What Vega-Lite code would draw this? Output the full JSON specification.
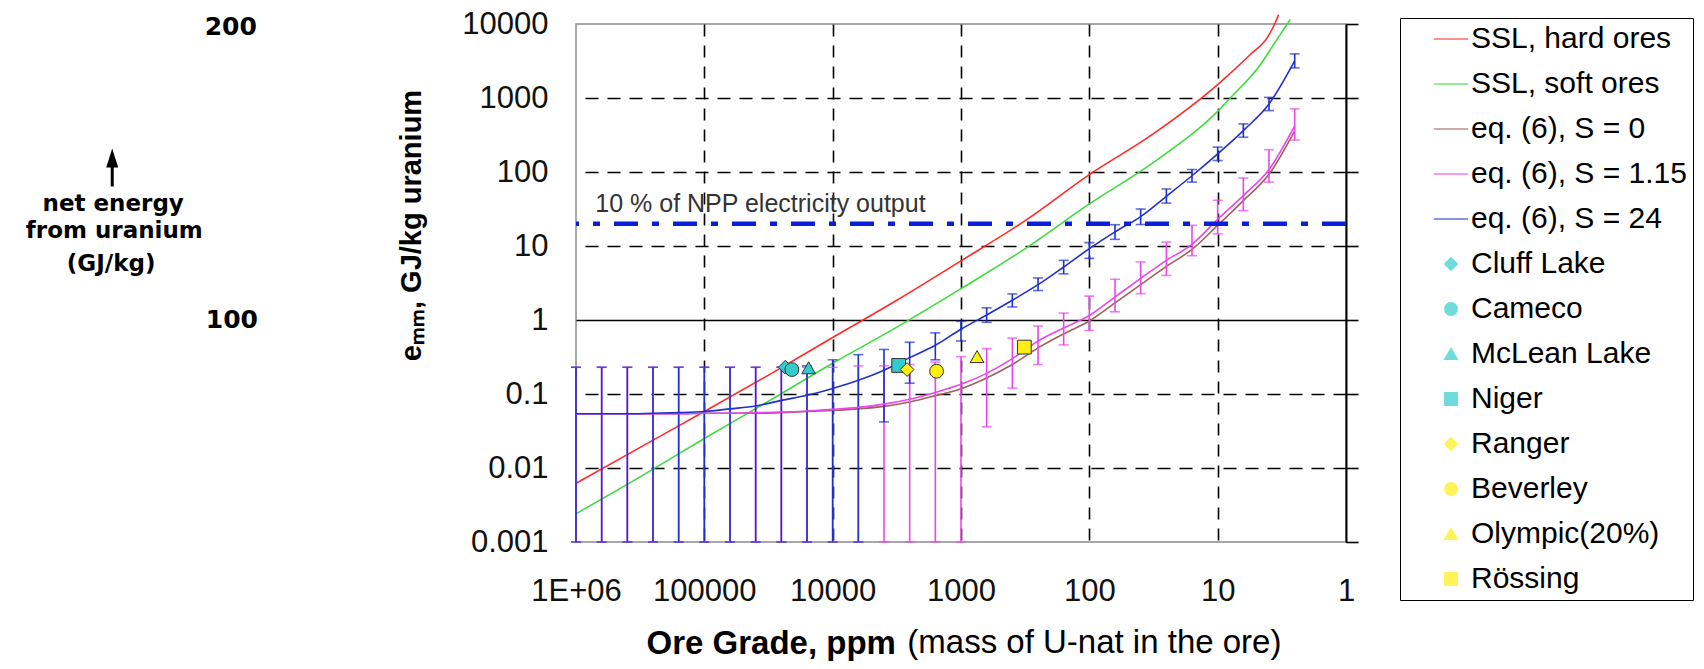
{
  "$schema": "https://vega.github.io/schema/vega-lite/v6.json",
  "width": 770,
  "height": 518,
  "autosize": {"type": "none"},
  "padding": {"left": 576, "top": 24, "right": 358, "bottom": 127},
  "background": "white",
  "config": {
    "view": {"stroke": "#8c8c8c", "strokeWidth": 1.5},
    "font": "Liberation Sans"
  },
  "datasets": {
    "ssl": [
      {"series": "SSL, hard ores", "ppm": 1000000, "e": 0.0062},
      {"series": "SSL, hard ores", "ppm": 316228, "e": 0.019},
      {"series": "SSL, hard ores", "ppm": 100000, "e": 0.058},
      {"series": "SSL, hard ores", "ppm": 31623, "e": 0.18},
      {"series": "SSL, hard ores", "ppm": 10000, "e": 0.58},
      {"series": "SSL, hard ores", "ppm": 3162, "e": 1.85},
      {"series": "SSL, hard ores", "ppm": 1000, "e": 6.3},
      {"series": "SSL, hard ores", "ppm": 316, "e": 22},
      {"series": "SSL, hard ores", "ppm": 100, "e": 92},
      {"series": "SSL, hard ores", "ppm": 31.6, "e": 330},
      {"series": "SSL, hard ores", "ppm": 10, "e": 1520},
      {"series": "SSL, hard ores", "ppm": 5.56, "e": 3870},
      {"series": "SSL, hard ores", "ppm": 4.12, "e": 6500},
      {"series": "SSL, hard ores", "ppm": 3.56, "e": 10400},
      {"series": "SSL, hard ores", "ppm": 3.35, "e": 13400},
      {"series": "SSL, soft ores", "ppm": 1000000, "e": 0.0024},
      {"series": "SSL, soft ores", "ppm": 316228, "e": 0.0076},
      {"series": "SSL, soft ores", "ppm": 100000, "e": 0.025},
      {"series": "SSL, soft ores", "ppm": 31623, "e": 0.08},
      {"series": "SSL, soft ores", "ppm": 10000, "e": 0.26},
      {"series": "SSL, soft ores", "ppm": 3162, "e": 0.8},
      {"series": "SSL, soft ores", "ppm": 1000, "e": 2.65},
      {"series": "SSL, soft ores", "ppm": 316, "e": 9.2},
      {"series": "SSL, soft ores", "ppm": 100, "e": 37},
      {"series": "SSL, soft ores", "ppm": 31.6, "e": 135},
      {"series": "SSL, soft ores", "ppm": 10, "e": 660},
      {"series": "SSL, soft ores", "ppm": 7.94, "e": 1006},
      {"series": "SSL, soft ores", "ppm": 4.64, "e": 2840},
      {"series": "SSL, soft ores", "ppm": 3.66, "e": 5300},
      {"series": "SSL, soft ores", "ppm": 2.72, "e": 11500},
      {"series": "eq. (6), S = 0", "ppm": 1000000, "e": 0.054},
      {"series": "eq. (6), S = 0", "ppm": 630957, "e": 0.054},
      {"series": "eq. (6), S = 0", "ppm": 398107, "e": 0.054},
      {"series": "eq. (6), S = 0", "ppm": 251189, "e": 0.054},
      {"series": "eq. (6), S = 0", "ppm": 158489, "e": 0.054},
      {"series": "eq. (6), S = 0", "ppm": 100000, "e": 0.055},
      {"series": "eq. (6), S = 0", "ppm": 63096, "e": 0.055},
      {"series": "eq. (6), S = 0", "ppm": 39811, "e": 0.055},
      {"series": "eq. (6), S = 0", "ppm": 25119, "e": 0.056},
      {"series": "eq. (6), S = 0", "ppm": 15849, "e": 0.058},
      {"series": "eq. (6), S = 0", "ppm": 10000, "e": 0.06},
      {"series": "eq. (6), S = 0", "ppm": 6310, "e": 0.063},
      {"series": "eq. (6), S = 0", "ppm": 3981, "e": 0.068},
      {"series": "eq. (6), S = 0", "ppm": 2512, "e": 0.078},
      {"series": "eq. (6), S = 0", "ppm": 1585, "e": 0.095},
      {"series": "eq. (6), S = 0", "ppm": 1000, "e": 0.118},
      {"series": "eq. (6), S = 0", "ppm": 631, "e": 0.165},
      {"series": "eq. (6), S = 0", "ppm": 398, "e": 0.25},
      {"series": "eq. (6), S = 0", "ppm": 251, "e": 0.42},
      {"series": "eq. (6), S = 0", "ppm": 158.5, "e": 0.65},
      {"series": "eq. (6), S = 0", "ppm": 100, "e": 0.97},
      {"series": "eq. (6), S = 0", "ppm": 63.1, "e": 1.7},
      {"series": "eq. (6), S = 0", "ppm": 39.8, "e": 3.0},
      {"series": "eq. (6), S = 0", "ppm": 25.1, "e": 5.3},
      {"series": "eq. (6), S = 0", "ppm": 15.85, "e": 9.0},
      {"series": "eq. (6), S = 0", "ppm": 10, "e": 19},
      {"series": "eq. (6), S = 0", "ppm": 6.31, "e": 41},
      {"series": "eq. (6), S = 0", "ppm": 3.98, "e": 93},
      {"series": "eq. (6), S = 0", "ppm": 2.51, "e": 360}
    ],
    "eq": [
      {"series": "eq. (6), S = 1.15", "ppm": 1000000, "e": 0.054, "lo": 0.001, "hi": 0.23},
      {"series": "eq. (6), S = 1.15", "ppm": 630957, "e": 0.054, "lo": 0.001, "hi": 0.23},
      {"series": "eq. (6), S = 1.15", "ppm": 398107, "e": 0.054, "lo": 0.001, "hi": 0.23},
      {"series": "eq. (6), S = 1.15", "ppm": 251189, "e": 0.054, "lo": 0.001, "hi": 0.23},
      {"series": "eq. (6), S = 1.15", "ppm": 158489, "e": 0.054, "lo": 0.001, "hi": 0.23},
      {"series": "eq. (6), S = 1.15", "ppm": 100000, "e": 0.055, "lo": 0.001, "hi": 0.23},
      {"series": "eq. (6), S = 1.15", "ppm": 63096, "e": 0.055, "lo": 0.001, "hi": 0.23},
      {"series": "eq. (6), S = 1.15", "ppm": 39811, "e": 0.056, "lo": 0.001, "hi": 0.23},
      {"series": "eq. (6), S = 1.15", "ppm": 25119, "e": 0.057, "lo": 0.001, "hi": 0.23},
      {"series": "eq. (6), S = 1.15", "ppm": 15849, "e": 0.059, "lo": 0.001, "hi": 0.23},
      {"series": "eq. (6), S = 1.15", "ppm": 10000, "e": 0.062, "lo": 0.001, "hi": 0.23},
      {"series": "eq. (6), S = 1.15", "ppm": 6310, "e": 0.066, "lo": 0.001, "hi": 0.24},
      {"series": "eq. (6), S = 1.15", "ppm": 3981, "e": 0.073, "lo": 0.001, "hi": 0.24},
      {"series": "eq. (6), S = 1.15", "ppm": 2512, "e": 0.085, "lo": 0.001, "hi": 0.25},
      {"series": "eq. (6), S = 1.15", "ppm": 1585, "e": 0.105, "lo": 0.001, "hi": 0.27},
      {"series": "eq. (6), S = 1.15", "ppm": 1000, "e": 0.135, "lo": 0.001, "hi": 0.32},
      {"series": "eq. (6), S = 1.15", "ppm": 631, "e": 0.19, "lo": 0.036, "hi": 0.41},
      {"series": "eq. (6), S = 1.15", "ppm": 398, "e": 0.3, "lo": 0.12, "hi": 0.57},
      {"series": "eq. (6), S = 1.15", "ppm": 251, "e": 0.52, "lo": 0.25, "hi": 0.83},
      {"series": "eq. (6), S = 1.15", "ppm": 158.5, "e": 0.78, "lo": 0.46, "hi": 1.24},
      {"series": "eq. (6), S = 1.15", "ppm": 100, "e": 1.15, "lo": 0.72, "hi": 2.1},
      {"series": "eq. (6), S = 1.15", "ppm": 63.1, "e": 2.05, "lo": 1.29, "hi": 3.55},
      {"series": "eq. (6), S = 1.15", "ppm": 39.8, "e": 3.65, "lo": 2.27, "hi": 6.1},
      {"series": "eq. (6), S = 1.15", "ppm": 25.1, "e": 6.4, "lo": 4.0, "hi": 11.3},
      {"series": "eq. (6), S = 1.15", "ppm": 15.85, "e": 10.5, "lo": 7.4, "hi": 19},
      {"series": "eq. (6), S = 1.15", "ppm": 10, "e": 23, "lo": 14.6, "hi": 41.5},
      {"series": "eq. (6), S = 1.15", "ppm": 6.31, "e": 48, "lo": 30, "hi": 83},
      {"series": "eq. (6), S = 1.15", "ppm": 3.98, "e": 108, "lo": 73, "hi": 200},
      {"series": "eq. (6), S = 1.15", "ppm": 2.51, "e": 420, "lo": 270, "hi": 713},
      {"series": "eq. (6), S = 24", "ppm": 1000000, "e": 0.054, "lo": 0.001, "hi": 0.23},
      {"series": "eq. (6), S = 24", "ppm": 630957, "e": 0.054, "lo": 0.001, "hi": 0.23},
      {"series": "eq. (6), S = 24", "ppm": 398107, "e": 0.054, "lo": 0.001, "hi": 0.23},
      {"series": "eq. (6), S = 24", "ppm": 251189, "e": 0.055, "lo": 0.001, "hi": 0.23},
      {"series": "eq. (6), S = 24", "ppm": 158489, "e": 0.056, "lo": 0.001, "hi": 0.23},
      {"series": "eq. (6), S = 24", "ppm": 100000, "e": 0.058, "lo": 0.001, "hi": 0.23},
      {"series": "eq. (6), S = 24", "ppm": 63096, "e": 0.063, "lo": 0.001, "hi": 0.23},
      {"series": "eq. (6), S = 24", "ppm": 39811, "e": 0.069, "lo": 0.001, "hi": 0.23},
      {"series": "eq. (6), S = 24", "ppm": 25119, "e": 0.082, "lo": 0.001, "hi": 0.23},
      {"series": "eq. (6), S = 24", "ppm": 15849, "e": 0.096, "lo": 0.001, "hi": 0.24},
      {"series": "eq. (6), S = 24", "ppm": 10000, "e": 0.119, "lo": 0.001, "hi": 0.29},
      {"series": "eq. (6), S = 24", "ppm": 6310, "e": 0.153, "lo": 0.001, "hi": 0.34},
      {"series": "eq. (6), S = 24", "ppm": 3981, "e": 0.21, "lo": 0.042, "hi": 0.4},
      {"series": "eq. (6), S = 24", "ppm": 2512, "e": 0.31, "lo": 0.14, "hi": 0.5},
      {"series": "eq. (6), S = 24", "ppm": 1585, "e": 0.455, "lo": 0.29, "hi": 0.67},
      {"series": "eq. (6), S = 24", "ppm": 1000, "e": 0.75, "lo": 0.52, "hi": 0.96},
      {"series": "eq. (6), S = 24", "ppm": 631, "e": 1.17, "lo": 0.93, "hi": 1.46},
      {"series": "eq. (6), S = 24", "ppm": 398, "e": 1.85, "lo": 1.5, "hi": 2.25},
      {"series": "eq. (6), S = 24", "ppm": 251, "e": 3.0, "lo": 2.5, "hi": 3.7},
      {"series": "eq. (6), S = 24", "ppm": 158.5, "e": 5.2, "lo": 4.2, "hi": 6.4},
      {"series": "eq. (6), S = 24", "ppm": 100, "e": 9.2, "lo": 6.8, "hi": 11.1},
      {"series": "eq. (6), S = 24", "ppm": 63.1, "e": 15.5, "lo": 12.3, "hi": 19.4},
      {"series": "eq. (6), S = 24", "ppm": 39.8, "e": 25, "lo": 19.5, "hi": 31.6},
      {"series": "eq. (6), S = 24", "ppm": 25.1, "e": 47, "lo": 38, "hi": 59},
      {"series": "eq. (6), S = 24", "ppm": 15.85, "e": 89, "lo": 73, "hi": 108},
      {"series": "eq. (6), S = 24", "ppm": 10, "e": 176, "lo": 143, "hi": 217},
      {"series": "eq. (6), S = 24", "ppm": 6.31, "e": 363, "lo": 295, "hi": 447},
      {"series": "eq. (6), S = 24", "ppm": 3.98, "e": 830, "lo": 676, "hi": 1020},
      {"series": "eq. (6), S = 24", "ppm": 2.51, "e": 3170, "lo": 2550, "hi": 3940}
    ],
    "mines": [
      {"series": "Cluff Lake", "ppm": 23400, "e": 0.23},
      {"series": "Cameco", "ppm": 20800, "e": 0.214},
      {"series": "McLean Lake", "ppm": 15400, "e": 0.226},
      {"series": "Niger", "ppm": 3060, "e": 0.243},
      {"series": "Ranger", "ppm": 2630, "e": 0.214},
      {"series": "Beverley", "ppm": 1550, "e": 0.203},
      {"series": "Olympic(20%)", "ppm": 750, "e": 0.32},
      {"series": "Rössing", "ppm": 321, "e": 0.43}
    ]
  },
  "resolve": {"axis": {"y": "independent"}},
  "layer": [
    {
      "data": {"name": "ssl"},
      "mark": {"type": "line", "interpolate": "monotone", "strokeWidth": 1.6},
      "encoding": {
        "x": {
          "field": "ppm", "type": "quantitative",
          "scale": {"type": "log", "domain": [1, 1000000], "reverse": true, "nice": false},
          "axis": {
            "values": [1000000, 100000, 10000, 1000, 100, 10, 1],
            "labelExpr": "datum.value == 1000000 ? '1E+06' : format(datum.value, '~g')",
            "labelFontSize": 31, "labelFont": "Liberation Sans", "labelColor": "#111111",
            "labelBaseline": "middle", "labelPadding": 49, "labelFlush": false, "labelOverlap": false, "labelBound": false,
            "ticks": false, "domain": false,
            "grid": true, "gridColor": "#000000", "gridWidth": 1.6, "gridDash": [12, 9],
            "gridOpacity": {"condition": {"test": "datum.value == 1000000 || datum.value == 1", "value": 0}, "value": 1},
            "title": "Ore Grade, ppm", "titleFont": "Liberation Sans", "titleFontSize": 33, "titleFontWeight": "bold",
            "titleColor": "#000000", "titleX": 70, "titleY": 101, "titleAlign": "left", "titleBaseline": "middle"
          }
        },
        "y": {
          "field": "e", "type": "quantitative",
          "scale": {"type": "log", "domain": [0.001, 10000], "nice": false},
          "axis": {
            "orient": "left",
            "values": [0.001, 0.01, 0.1, 1, 10, 100, 1000, 10000],
            "labelExpr": "format(datum.value, '~g')",
            "labelFontSize": 31, "labelFont": "Liberation Sans", "labelColor": "#111111",
            "labelPadding": 28, "labelFlush": false, "labelOverlap": false, "labelBound": false,
            "ticks": false, "domain": false,
            "grid": true, "gridColor": "#000000", "gridWidth": 1.6,
            "gridDash": {"condition": {"test": "datum.value == 1", "value": []}, "value": [13, 9]},
            "gridOpacity": {"condition": {"test": "datum.value == 0.001 || datum.value == 10000", "value": 0}, "value": 1},
            "title": "eₘₘ, GJ/kg uranium", "titleFont": "Liberation Sans", "titleFontSize": 29, "titleFontWeight": "bold",
            "titleColor": "#000000", "titleX": -165, "titleY": 201, "titleAlign": "center", "titleBaseline": "middle", "titleAngle": 270
          }
        },
        "color": {
          "field": "series", "type": "nominal",
          "scale": {
            "domain": ["SSL, hard ores", "SSL, soft ores", "eq. (6), S = 0", "eq. (6), S = 1.15", "eq. (6), S = 24", "Cluff Lake", "Cameco", "McLean Lake", "Niger", "Ranger", "Beverley", "Olympic(20%)", "Rössing"],
            "range": ["#ff2a2a", "#3ddc3d", "#a0605c", "#ee44ee", "#2030cc", "#33cccc", "#33cccc", "#33cccc", "#33cccc", "#ffee11", "#ffee11", "#ffee11", "#ffee11"]
          },
          "legend": {
            "orient": "none", "legendX": 824, "legendY": -6, "title": null,
            "padding": 6, "symbolOffset": 30, "labelOffset": 5, "rowPadding": 15,
            "strokeColor": "#000000", "fillColor": "#ffffff",
            "labelFont": "Liberation Sans", "labelFontSize": 30, "labelColor": "#000000", "labelLimit": 600,
            "labelExpr": "datum.label + '     '",
            "symbolSize": 150, "symbolStrokeWidth": 1.6
          }
        }
      }
    },
    {
      "data": {"name": "eq"},
      "mark": {"type": "rule", "strokeWidth": 1.6},
      "encoding": {
        "x": {"field": "ppm", "type": "quantitative"},
        "y": {"field": "lo", "type": "quantitative", "axis": null},
        "y2": {"field": "hi"},
        "color": {"field": "series", "type": "nominal"}
      }
    },
    {
      "data": {"name": "eq"},
      "transform": [{"fold": ["lo", "hi"], "as": ["end", "ev"]}],
      "mark": {"type": "tick", "orient": "horizontal", "size": 10, "thickness": 1.6},
      "encoding": {
        "x": {"field": "ppm", "type": "quantitative"},
        "y": {"field": "ev", "type": "quantitative", "axis": null},
        "color": {"field": "series", "type": "nominal"}
      }
    },
    {
      "data": {"name": "eq"},
      "mark": {"type": "line", "interpolate": "monotone", "strokeWidth": 1.6},
      "encoding": {
        "x": {"field": "ppm", "type": "quantitative"},
        "y": {"field": "e", "type": "quantitative", "axis": null},
        "color": {"field": "series", "type": "nominal"}
      }
    },
    {
      "data": {"values": [{}]},
      "mark": {"type": "rule", "color": "#0a1fdc", "strokeWidth": 4.5, "strokeDash": [24, 14, 7, 14]},
      "encoding": {
        "y": {
          "datum": 20, "type": "quantitative",
          "axis": {
            "orient": "right", "values": [0.001, 0.01, 0.1, 1, 10, 100, 1000, 10000],
            "labels": false, "ticks": true, "tickSize": 12, "tickColor": "#000000", "tickWidth": 1.6,
            "domain": true, "domainColor": "#000000", "domainWidth": 2, "grid": false, "title": null
          }
        }
      }
    },
    {
      "data": {"values": [{}]},
      "mark": {"type": "text", "text": "10 % of NPP electricity output", "font": "Liberation Sans", "fontSize": 25, "align": "left", "baseline": "middle", "color": "#333333"},
      "encoding": {
        "x": {"datum": 707000, "type": "quantitative"},
        "y": {"datum": 37.5, "type": "quantitative", "axis": null}
      }
    },
    {
      "data": {"name": "mines"},
      "mark": {"type": "point", "filled": true, "size": 190, "stroke": "#333333", "strokeWidth": 1, "opacity": 1},
      "encoding": {
        "x": {"field": "ppm", "type": "quantitative"},
        "y": {"field": "e", "type": "quantitative", "axis": null},
        "color": {"field": "series", "type": "nominal"},
        "shape": {
          "field": "series", "type": "nominal",
          "scale": {
            "domain": ["SSL, hard ores", "SSL, soft ores", "eq. (6), S = 0", "eq. (6), S = 1.15", "eq. (6), S = 24", "Cluff Lake", "Cameco", "McLean Lake", "Niger", "Ranger", "Beverley", "Olympic(20%)", "Rössing"],
            "range": ["M-2.8,0H2.8", "M-2.8,0H2.8", "M-2.8,0H2.8", "M-2.8,0H2.8", "M-2.8,0H2.8", "diamond", "circle", "triangle-up", "square", "diamond", "circle", "triangle-up", "square"]
          },
          "legend": {
            "orient": "none", "legendX": 824, "legendY": -6, "title": null,
            "padding": 6, "symbolOffset": 30, "labelOffset": 5, "rowPadding": 15,
            "strokeColor": "#000000", "fillColor": "#ffffff",
            "labelFont": "Liberation Sans", "labelFontSize": 30, "labelColor": "#000000", "labelLimit": 600,
            "labelExpr": "datum.label + '     '",
            "symbolSize": 150, "symbolStrokeWidth": 1.6
          }
        }
      }
    },
    {
      "data": {"values": [{}]},
      "mark": {"type": "text", "text": "(mass of U-nat in the ore)", "font": "Liberation Sans", "fontSize": 33, "align": "left", "baseline": "middle", "color": "#000000"},
      "encoding": {
        "x": {"datum": 2620, "type": "quantitative"},
        "y": {"datum": 0.0000425, "type": "quantitative", "axis": null}
      }
    },
    {
      "data": {"values": [{}]},
      "mark": {"type": "text", "text": "200", "font": "DejaVu Sans", "fontWeight": "bold", "fontSize": 25, "align": "center", "baseline": "middle", "color": "#000000"},
      "encoding": {
        "x": {"datum": 490000000, "type": "quantitative"},
        "y": {"datum": 9200, "type": "quantitative", "axis": null}
      }
    },
    {
      "data": {"values": [{}]},
      "mark": {"type": "text", "text": "100", "font": "DejaVu Sans", "fontWeight": "bold", "fontSize": 25, "align": "center", "baseline": "middle", "color": "#000000"},
      "encoding": {
        "x": {"datum": 480000000, "type": "quantitative"},
        "y": {"datum": 1.0, "type": "quantitative", "axis": null}
      }
    },
    {
      "data": {"values": [{}]},
      "mark": {"type": "text", "text": "net energy", "font": "DejaVu Sans", "fontWeight": "bold", "fontSize": 23, "align": "center", "baseline": "middle", "color": "#000000"},
      "encoding": {
        "x": {"datum": 4040000000, "type": "quantitative"},
        "y": {"datum": 37.5, "type": "quantitative", "axis": null}
      }
    },
    {
      "data": {"values": [{}]},
      "mark": {"type": "text", "text": "from uranium", "font": "DejaVu Sans", "fontWeight": "bold", "fontSize": 23, "align": "center", "baseline": "middle", "color": "#000000"},
      "encoding": {
        "x": {"datum": 3960000000, "type": "quantitative"},
        "y": {"datum": 15.8, "type": "quantitative", "axis": null}
      }
    },
    {
      "data": {"values": [{}]},
      "mark": {"type": "text", "text": "(GJ/kg)", "font": "DejaVu Sans", "fontWeight": "bold", "fontSize": 23, "align": "center", "baseline": "middle", "color": "#000000"},
      "encoding": {
        "x": {"datum": 4190000000, "type": "quantitative"},
        "y": {"datum": 5.8, "type": "quantitative", "axis": null}
      }
    },
    {
      "data": {"values": [{}]},
      "mark": {"type": "rule", "color": "#000000", "strokeWidth": 3},
      "encoding": {
        "x": {"datum": 4110000000, "type": "quantitative"},
        "y": {"datum": 118, "type": "quantitative", "axis": null},
        "y2": {"datum": 63.7}
      }
    },
    {
      "data": {"values": [{}]},
      "mark": {"type": "point", "shape": "M0,-1L0.63,1L-0.63,1Z", "filled": true, "color": "#000000", "size": 361, "opacity": 1},
      "encoding": {
        "x": {"datum": 4110000000, "type": "quantitative"},
        "y": {"datum": 154.6, "type": "quantitative", "axis": null}
      }
    }
  ]
}
